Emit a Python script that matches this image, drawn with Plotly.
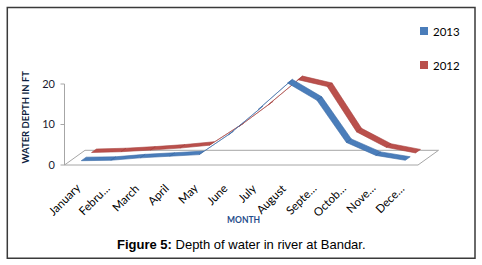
import plotly.graph_objects as go

# ---------------- data ----------------
months = ["January", "Febru…", "March", "April", "May", "June", "July",
          "August", "Septe…", "Octob…", "Nove…", "Dece…"]
depth_2013 = [0.7, 0.8, 1.4, 1.8, 2.2, 7.1, 13.3, 19.9, 15.6, 5.2, 2.0, 0.8]
depth_2012 = [0.9, 1.1, 1.5, 2.0, 2.7, 7.3, 12.7, 18.9, 17.2, 6.0, 2.2, 0.8]
y_ticks = [0, 10, 20]
series_names = ["2013", "2012"]

# ---------------- layout geometry ----------------
W, H = 482, 265
ML, MR, MT, MB = 58, 37, 62, 96
PW, PH = W - ML - MR, H - MT - MB
X_FRONT_LEFT, X_FRONT_RIGHT = 64.5, 418.0
Y_ZERO_PX, PX_PER_Y = 165.0, 4.05
S = (X_FRONT_RIGHT - X_FRONT_LEFT) / len(months)
xl = -0.5 - (X_FRONT_LEFT - ML) / S
xr = xl + PW / S
yl = -((H - MB) - Y_ZERO_PX) / PX_PER_Y
yr = yl + PH / PX_PER_Y
Dx, Dy = 20.5 / S, 14.7 / PX_PER_Y   # oblique depth vector in data units


def px2x(px):
    return (px - ML) / PW


def py2y(py):
    return ((H - MB) - py) / PH


def ribbon(vals, f0, f1):
    xs, ys = [], []
    for k in range(len(vals) - 1):
        pts = [(k + f0 * Dx, vals[k] + f0 * Dy),
               (k + 1 + f0 * Dx, vals[k + 1] + f0 * Dy),
               (k + 1 + f1 * Dx, vals[k + 1] + f1 * Dy),
               (k + f1 * Dx, vals[k] + f1 * Dy),
               (k + f0 * Dx, vals[k] + f0 * Dy)]
        xs += [p[0] for p in pts] + [None]
        ys += [p[1] for p in pts] + [None]
    return xs, ys


fig = go.Figure()
rx, ry = ribbon(depth_2012, 0.60, 0.84)
fig.add_trace(go.Scatter(x=rx, y=ry, mode="lines", fill="toself",
                         fillcolor="#BA504C", line=dict(color="#A8433F", width=0.6),
                         name=series_names[1], showlegend=False, hoverinfo="skip"))
bx, by = ribbon(depth_2013, 0.10, 0.34)
fig.add_trace(go.Scatter(x=bx, y=by, mode="lines", fill="toself",
                         fillcolor="#4A7DBA", line=dict(color="#3D6CA6", width=0.6),
                         name=series_names[0], showlegend=False, hoverinfo="skip"))

shapes = []
grey = "#A6A6A6"
n = len(months)
# floor
shapes.append(dict(type="path", xref="x", yref="y", layer="below",
                   path=f"M {-0.5},0 L {n-0.5},0 L {n-0.5+Dx},{Dy} L {-0.5+Dx},{Dy} Z",
                   line=dict(color=grey, width=1)))
# y axis line and ticks
shapes.append(dict(type="line", xref="x", yref="y", x0=-0.5, x1=-0.5, y0=0, y1=max(y_ticks),
                   line=dict(color=grey, width=1)))
for t in y_ticks:
    shapes.append(dict(type="line", xref="x", yref="y", x0=-0.5 - 4 / S, x1=-0.5, y0=t, y1=t,
                       line=dict(color=grey, width=1)))

annotations = []
# month labels (rotated category labels)
for i, m in enumerate(months):
    annotations.append(dict(xref="x", yref="paper", x=i + 6.0 / S, y=py2y(178.5),
                            xanchor="right", yanchor="top", showarrow=False, text=m,
                            textangle=-45,
                            font=dict(family="Lato", size=11.5, color="#000000")))

# legend squares + labels
leg_colors = ["#4A7DBA", "#BA504C"]
leg_y = [31, 65]
for name, c, yy in zip(series_names, leg_colors, leg_y):
    shapes.append(dict(type="rect", xref="paper", yref="paper",
                       x0=px2x(420), x1=px2x(428), y0=py2y(yy - 4), y1=py2y(yy + 4),
                       fillcolor=c, line=dict(width=0)))
    annotations.append(dict(xref="paper", yref="paper", x=px2x(430.5), y=py2y(yy),
                            xanchor="left", yanchor="middle", showarrow=False, text=name,
                            font=dict(family="Lato", size=11.5, color="#000000")))

# border
shapes.append(dict(type="rect", xref="paper", yref="paper",
                   x0=px2x(7.3), x1=px2x(475.0), y0=py2y(258.3), y1=py2y(7.5),
                   line=dict(color="#3A3A3A", width=1.5)))

annotations += [
    dict(xref="paper", yref="paper", x=px2x(243), y=py2y(220), showarrow=False,
         text="<b>MONTH</b>", xanchor="center", yanchor="middle",
         font=dict(family="Lato", size=8.5, color="#1F4E8C")),
    dict(xref="paper", yref="paper", x=px2x(25), y=py2y(117.5), showarrow=False,
         text="<b>WATER DEPTH IN FT</b>", textangle=-90, xanchor="center", yanchor="middle",
         font=dict(family="Lato", size=9.5, color="#0F1F40")),
    dict(xref="paper", yref="paper", x=px2x(241.7), y=py2y(244), showarrow=False,
         text="<b>Figure 5:</b> Depth of water in river at Bandar.",
         xanchor="center", yanchor="middle",
         font=dict(family="Liberation Sans", size=13, color="#000000")),
]

fig.update_layout(
    width=W, height=H, margin=dict(l=ML, r=MR, t=MT, b=MB, autoexpand=False),
    paper_bgcolor="white", plot_bgcolor="white", showlegend=False,
    shapes=shapes, annotations=annotations,
    xaxis=dict(range=[xl, xr], tickmode="array", tickvals=list(range(n)),
               showticklabels=False, showgrid=False, zeroline=False, showline=False, ticks=""),
    yaxis=dict(range=[yl, yr], tickmode="array", tickvals=y_ticks, showgrid=False,
               zeroline=False, showline=False, ticks="", ticklabelstandoff=2,
               tickfont=dict(family="Lato", size=11, color="#1a1a2e")),
)
fig.write_html("out.html", config={"displayModeBar": False},
               post_script="document.body.style.margin='0';document.body.style.overflow='hidden';")
